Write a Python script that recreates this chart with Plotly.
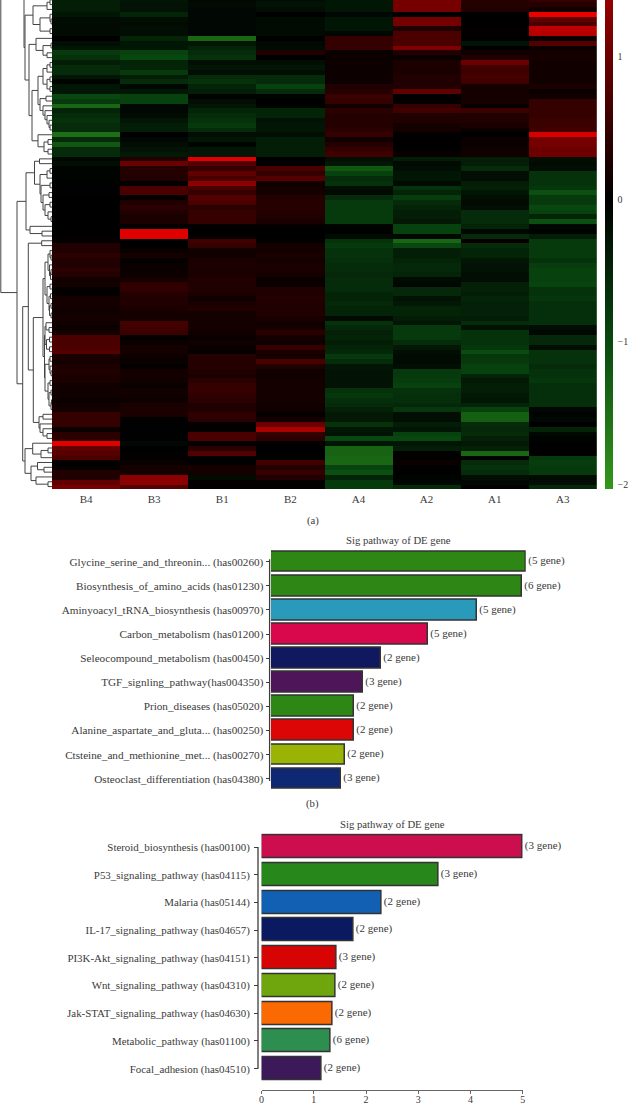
import plotly.graph_objects as go

W, H = 629, 1106
SAMPLES = ["B4", "B3", "B1", "B2", "A4", "A2", "A1", "A3"]

B4 = [-.4,-.4,-.4,-.3,-.15,-.15,-.15,-.15,0,-.2,-.3,-.8,-.7,-.4,-.6,-.6,-.3,-.05,-.3,-.3,-1.0,-.8,-1.4,-.5,-.6,-.7,-.6,-.6,-1.5,-.6,-1.2,-.6,-.6,-.1,-.2,-.05,-.05,-.05,-.02,-.02,-.02,0,0,0,0,0,0,0,0,.02,.05,.3,.3,.4,
      .3,.3,.4,.35,.15,.2,.05,.05,.2,.2,.15,.15,.2,.15,.1,.2,.7,.7,.7,.8,.25,.2,.25,.3,.25,.25,.15,.15,.15,.1,.15,.2,.5,.5,.5,.1,.4,.4,2.1,.9,.8,.7,.05,.05,.3,.3,.9,1.1]
B3 = [-.3,-.25,-.25,-.5,-.2,-.15,-.2,-.2,-.5,-.3,-.3,-.9,-1.0,-.5,-.5,-.8,-.4,-.6,-.1,-.3,-.9,-.9,-.1,-.1,-.15,-.3,-.4,-.4,0,-.1,-.2,-.25,-.35,.3,1.0,.35,.35,.3,.05,.7,.7,.05,.3,.4,.3,.25,.25,.05,2.1,2.1,0,0,.1,.2,
      .05,.1,.1,.12,.2,.45,.45,.35,.3,.3,.25,.2,.2,.65,.6,.55,.05,.1,.2,.2,.12,.08,.05,.2,.2,.15,.1,.15,.15,.12,.25,.25,.25,0,-.02,-.02,-.02,-.02,-.1,0,.02,.02,.08,.2,.2,1.3,1.3,.8]
B1 = [-.1,-.15,-.1,-.1,-.1,-.1,-.1,-.1,-1.4,-.3,-.5,-.6,-.7,-.2,-.3,-.2,-.6,-.7,-.5,-.4,-.05,-.2,-.3,-.5,-.6,-.7,-.8,-.6,-.2,-.3,-.05,-.3,-.3,2.1,.8,.5,.9,.7,1.3,.7,.5,.8,.7,.4,.5,.5,.5,.05,0,.05,.6,.5,.15,.15,
      .25,.25,.25,.25,.3,.3,.3,.25,.15,.25,.3,.2,.2,.2,.2,.15,.1,.15,.1,.05,.35,.35,.35,.3,.25,.4,.5,.5,.45,.4,.3,.3,.45,.4,.05,.05,.7,.7,.05,.4,.8,.02,.02,.2,.2,-.15,.02,.02]
B2 = [-.2,-.25,-.2,0,-.15,-.15,-.15,-.15,0,-.1,-.15,.3,0,-.2,-.3,-.2,-.6,-.6,-.9,-.6,-.05,0,-.05,-.5,-.5,-.25,-.3,-.3,-.2,-.4,-.4,-.4,-.4,0,0,.7,.5,.8,.15,.2,.2,.35,.35,.35,.35,.3,.25,.05,0,0,.05,.2,.2,.25,
      .2,.25,.25,.2,.1,.1,.3,.3,.35,.3,.3,.3,.25,.15,.2,.4,.2,.15,.5,.25,.2,.7,.3,.15,.15,.2,.2,.2,.2,.2,.15,.15,.05,.2,1.0,1.6,.5,.4,.05,0,0,0,.6,.35,.5,.3,.02,.02]
A4 = [-.3,-.3,-.3,-.1,-.3,-.3,-.3,-.1,.5,.5,.5,.1,.1,.12,.12,.12,.12,.12,.3,.35,.55,.5,.15,.4,.35,.35,.35,.4,.5,.15,.35,.5,.6,-.2,-.3,-1.2,-.9,-.6,-.7,-.2,-.15,-.6,-.8,-.8,-.8,-.8,-.8,-.05,-.03,-.15,-.7,-.8,-.7,-.7,
      -.65,-.6,-.6,-.55,-.6,-.6,-.6,-.5,-.5,-.55,-.5,-.5,-.15,-.7,-.55,-.45,-.5,-.4,-.5,-.55,-.8,-.6,-.3,-.25,-.25,-.25,-.25,-.7,-.75,-.65,-.6,-.45,-.35,-.35,-.7,-.3,-.25,-1.0,-.3,-1.35,-1.35,-1.4,-1.4,-.95,-1.1,-.5,-.8,-.8]
A2 = [1.1,1.1,1.1,0,1.1,1.1,.3,.7,.7,.7,1.2,.3,.1,.25,.25,.25,.3,.3,.3,.9,0,.05,.5,.6,.3,.3,.2,.2,.02,0,0,.02,.08,-.4,-.15,-.2,-.3,-.3,-.15,-.7,-.5,-.85,-.6,-.5,-.4,-.4,-.35,-.9,-.9,-.1,-1.4,-1.0,-.4,-.4,
      -.5,-.55,-.55,-.5,-.15,-.1,-.55,-.55,-.25,-.35,-.5,-.5,-.4,-.3,-.8,-.8,-.8,-.6,-.35,-.2,-.15,-.15,-.2,-.8,-.8,-.85,-.9,-.7,-.65,-.65,-.55,-.75,-.2,-.2,-.4,-.3,-.9,-1.0,-.3,-.4,0,.05,.1,0,0,-.05,-.1,-.6]
A1 = [.35,.35,.3,0,0,0,.05,.02,0,-.25,0,.15,.3,1.0,.6,.6,.65,.6,.2,.2,.2,.2,.1,.55,.3,.3,.25,.1,0,.1,.1,.15,.15,-.4,-.4,-.6,-.2,-.2,-.4,-.45,-.3,-.2,-.15,-.2,-.6,-.6,-.6,-.5,-.1,-.6,.1,-.6,-.5,-.5,
      -.3,-.25,-.25,-.2,-.2,-.45,-.45,-.4,-.5,-.45,-.45,-.45,-.4,-.6,-.25,-.7,-.7,-.7,-.75,-1.05,-.75,-.8,-.9,-.9,-.5,-.35,-.4,-.4,-.35,-.3,-.5,-.9,-1.3,-1.3,-.6,-.55,-.6,-.45,-.35,-.45,-1.4,-.05,-.6,-.7,-.6,-.2,-.1,-.02]
A3 = [.5,.35,.2,2.2,.9,.7,1.8,1.7,.1,.8,.1,.2,.2,.15,.15,.15,.15,.15,.25,.1,.15,.5,.5,.5,.5,.55,.55,.6,2.0,1.1,1.1,1.0,1.05,-.2,-.15,-.2,-.7,-.7,-.7,-.75,-1.1,-.8,-.8,-1.0,-.9,-.5,-1.1,-.1,-.05,-.4,-.8,-.8,-.8,-.8,
      -.7,-.85,-.9,-.9,-.9,-.95,-.7,-.7,-.75,-.65,-.65,-.65,-.65,-.65,-.2,-.1,-.55,-.55,-.2,-.7,-.7,-.7,-.6,-.7,-.7,-.75,-.65,-.65,-.65,-.65,-.65,-.1,-.05,-.1,0,-.5,-.1,-.05,0,0,0,-.8,-.85,-.8,-.8,-.15,-.2,-.55]
COLUMNS = [B4, B3, B1, B2, A4, A2, A1, A3]


# dendrogram: (merge position on the tree axis, child, child); integers are heatmap rows
def N(h, a, b):
    return (h, a, b)


OFF_PAGE_ROW = -30
T0 = N(33, N(47, N(50, 0, 1), 2), N(40, N(50, 3, N(51, 4, 5)), N(50, 6, 7)))
T1A = N(36, 8, N(43, N(51, 9, 10), N(47, 11, 12)))
R13 = N(43, N(47, N(50, 13, 14), 15), N(47, N(50, 16, 17), N(50, 18, 19)))
R20 = N(40, N(46, 20, 21), N(43, 22, N(45, 23, N(47, 24, N(49, 25, N(50, 26, 27))))))
R28 = N(38, 28, N(44, N(48, 29, 30), N(48, 31, 32)))
T2 = N(32, N(38, R13, R20), R28)
TOP = N(24, OFF_PAGE_ROW, N(25, T0, N(29, T1A, T2)))
R38 = N(41, N(50, 38, 39), N(43, N(49, 40, 41), N(45, N(50, 42, 43), N(48, 44, N(51, 45, 46)))))
U1 = N(34.5, N(39.5, 33, 34), N(40, N(47, N(50, 35, 36), 37), R38))
U2 = N(30, 47, N(42, 48, 49))
R52 = N(48, N(50, 52, N(51, 53, 54)), N(49.5, 55, N(50.5, N(51, 56, 57), 58)))
R59 = N(47, N(50, 59, 60), N(49, N(50.5, 61, 62), N(49.5, N(51, 63, 64), N(51, 65, 66))))
R67 = N(45, N(46, 67, N(49, 68, 69)), N(46.5, N(49.5, 70, 71), N(49.5, 72, 73)))
R74 = N(45, N(49, N(50, 74, 75), N(50, 76, N(51, 77, 78))), N(48, N(50, 79, 80), N(49, N(51, 81, 82), N(51, N(51.5, 83, 84), 85))))
R52_85 = N(43, N(45, R52, R59), N(44.5, R67, R74))
R86 = N(39, N(43, 86, 87), N(40, 88, N(43, 89, N(47, 90, 91))))
MID = N(28.3, N(41.7, 50, 51), N(33.3, R52_85, R86))
R92 = N(25, N(32.7, 92, N(41, N(48, 93, 94), 95)), N(31, N(37.5, 96, N(44, 97, 98)), N(36, 99, N(48, 100, 101))))
LOW = N(17, N(26, U1, U2), N(22.7, MID, R92))
ROOT = N(0.8, TOP, LOW)
LEAF_POS = 52

PATHWAYS_B = ["Glycine_serine_and_threonin... (has00260)", "Biosynthesis_of_amino_acids (has01230)",
              "Aminyoacyl_tRNA_biosynthesis (has00970)", "Carbon_metabolism (has01200)",
              "Seleocompound_metabolism (has00450)", "TGF_signling_pathway(has004350)",
              "Prion_diseases (has05020)", "Alanine_aspartate_and_gluta... (has00250)",
              "Ctsteine_and_methionine_met... (has00270)", "Osteoclast_differentiation (has04380)"]
VALUES_B = [5.0, 4.92, 4.05, 3.09, 2.15, 1.8, 1.63, 1.63, 1.45, 1.38]
GENES_B = [5, 6, 5, 5, 2, 3, 2, 2, 2, 3]
COLORS_B = ["#2e8715", "#2e8715", "#2a9aba", "#d9084c", "#10185f", "#4e1659", "#2e8715", "#dc0606", "#9ab406", "#0e2873"]

PATHWAYS_C = ["Steroid_biosynthesis (has00100)", "P53_signaling_pathway (has04115)", "Malaria (has05144)",
              "IL-17_signaling_pathway (has04657)", "PI3K-Akt_signaling_pathway (has04151)",
              "Wnt_signaling_pathway (has04310)", "Jak-STAT_signaling_pathway (has04630)",
              "Metabolic_pathway (has01100)", "Focal_adhesion (has04510)"]
VALUES_C = [5.0, 3.39, 2.29, 1.76, 1.44, 1.41, 1.35, 1.32, 1.15]
GENES_C = [3, 3, 2, 2, 3, 2, 2, 6, 2]
COLORS_C = ["#cc0d4e", "#27871a", "#1260b4", "#0b1a60", "#d80404", "#6fa60e", "#fb6902", "#2c8f50", "#3c1a5a"]

ZMIN, ZMAX = -2.035, 2.2
FONT = "Liberation Serif"
INK = "#3a3a3a"
LINE = "#3c3c3c"


def fx(p):
    return p / W


def fy(p):
    return 1 - p / H


def stops():
    pts = [(-2.035, "rgb(52,150,26)"), (-1, "rgb(8,72,16)"), (0, "rgb(0,0,0)"), (2.2, "rgb(235,0,0)")]
    return [[(v - ZMIN) / (ZMAX - ZMIN), c] for v, c in pts]


fig = go.Figure()
rows = list(range(len(B4)))
fig.add_trace(go.Heatmap(
    z=[[col[r] for col in COLUMNS] for r in rows], x=SAMPLES, y=rows, xaxis="x", yaxis="y",
    colorscale=stops(), zmin=ZMIN, zmax=ZMAX, hoverinfo="skip",
    colorbar=dict(thickness=8, thicknessmode="pixels", len=(ZMAX - ZMIN) * 142.3, lenmode="pixels",
                  x=fx(605), xanchor="left", y=fy(489), yanchor="bottom", xpad=0, ypad=0,
                  outlinewidth=0, tickvals=[-2, -1, 0, 1], ticktext=["\u22122", "\u22121", "0", "1"],
                  ticks="outside", ticklen=3, tickcolor="rgba(0,0,0,0)",
                  tickfont=dict(family=FONT, size=10, color=INK))))

dx, dy = [], []


def walk(node):
    if isinstance(node, int):
        return LEAF_POS, node
    h, a, b = node
    xa, ya = walk(a)
    xb, yb = walk(b)
    dx.extend([xa, h, h, xb, None])
    dy.extend([ya, ya, yb, yb, None])
    return h, (ya + yb) / 2


walk(ROOT)
fig.add_trace(go.Scatter(x=dx, y=dy, mode="lines", xaxis="x2", yaxis="y",
                         line=dict(color="#444444", width=1), hoverinfo="skip", showlegend=False))


def bars(labels, vals, genes, colors, xa, ya, width):
    fig.add_trace(go.Bar(
        x=vals, y=labels, orientation="h", xaxis=xa, yaxis=ya, width=width,
        marker=dict(color=colors, line=dict(color="#333333", width=1.5)),
        text=[f"({g} gene)" for g in genes], textposition="outside", cliponaxis=False,
        textfont=dict(family=FONT, size=11, color=INK), hoverinfo="skip", showlegend=False))


bars(PATHWAYS_B, VALUES_B, GENES_B, COLORS_B, "x3", "y3", 0.86)
bars(PATHWAYS_C, VALUES_C, GENES_C, COLORS_C, "x4", "y4", 0.83)

tick_font = dict(family=FONT, size=11, color=INK)
tick_font_b = dict(family=FONT, size=11.2, color=INK)
tick_font_c = dict(family=FONT, size=10.9, color=INK)
title_font = dict(family=FONT, size=10.7, color=INK)
STEP_B = (778.7 - 561.7) / 9
STEP_C = (1068.7 - 847) / 8


def note(text, px, py):
    return dict(text=text, x=fx(px), y=fy(py), xref="paper", yref="paper", xanchor="center", yanchor="middle",
                showarrow=False, font=title_font)


fig.update_layout(
    width=W, height=H, margin=dict(l=0, r=0, t=0, b=0, autoexpand=False),
    paper_bgcolor="white", plot_bgcolor="white", showlegend=False, bargap=0,
    xaxis=dict(domain=[fx(52), fx(596.8)], side="bottom", anchor="y", ticks="", tickfont=tick_font,
               ticklabelstandoff=2, showgrid=False, zeroline=False, fixedrange=True),
    yaxis=dict(domain=[fy(489), 1], range=[101.5, 0.04], visible=False, fixedrange=True),
    xaxis2=dict(domain=[0, fx(52)], range=[0, 52], visible=False, anchor="y", fixedrange=True),
    xaxis3=dict(domain=[fx(271), fx(525.7)], range=[0, 5], visible=False, anchor="y3", fixedrange=True),
    yaxis3=dict(domain=[fy(778.7 + STEP_B / 2), fy(561.7 - STEP_B / 2)], type="category", range=[9.5, -0.5],
                anchor="free", position=fx(269.6), showline=False, ticks="outside", ticklen=4, tickcolor=LINE,
                tickwidth=1, tickfont=tick_font_b, showgrid=False, zeroline=False, fixedrange=True),
    xaxis4=dict(domain=[fx(261.6), fx(522.8)], range=[0, 5], anchor="free", position=fy(1090),
                showline=True, linecolor="#666666", linewidth=1.2, ticks="outside", ticklen=3, tickcolor="#666666",
                tickvals=[0, 1, 2, 3, 4, 5], tickfont=dict(family=FONT, size=10, color=INK),
                ticklabelstandoff=-3, showgrid=False, zeroline=False, fixedrange=True),
    yaxis4=dict(domain=[fy(1068.7 + STEP_C / 2), fy(847 - STEP_C / 2)], type="category", range=[8.5, -0.5],
                anchor="free", position=fx(258), showline=False, ticks="outside", ticklen=4, tickcolor=LINE,
                tickwidth=1, ticklabelstandoff=2, tickfont=tick_font_c, showgrid=False, zeroline=False,
                fixedrange=True),
    shapes=[
        dict(type="line", xref="paper", yref="y3", x0=fx(269.6), x1=fx(269.6), y0=-0.1, y1=9.1,
             line=dict(color=LINE, width=1.3)),
        dict(type="line", xref="paper", yref="y4", x0=fx(258), x1=fx(258), y0=0, y1=8,
             line=dict(color=LINE, width=1.3)),
    ],
    annotations=[
        note("Sig pathway of DE gene", 398.3, 540),
        note("Sig pathway of DE gene", 392.3, 824),
        note("(a)", 312.5, 520.7),
        note("(b)", 312.5, 803.3),
    ])

fig.write_html("out.html", config={"displayModeBar": False},
               post_script="document.body.style.margin='0';document.body.style.overflow='hidden';")
